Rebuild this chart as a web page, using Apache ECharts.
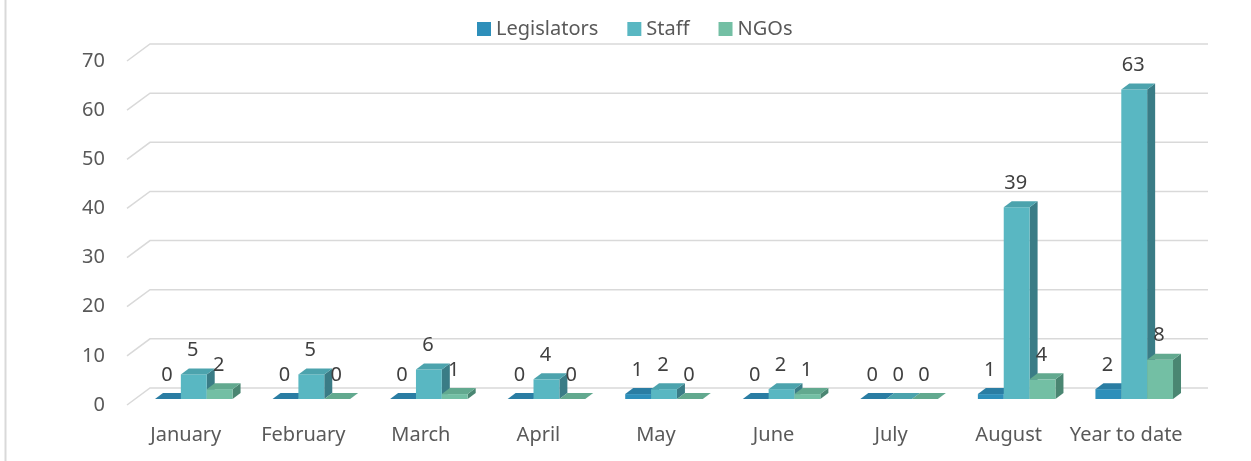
<!DOCTYPE html>
<html>
<head>
<meta charset="utf-8">
<script src="https://cdn.jsdelivr.net/npm/echarts@6/dist/echarts.min.js"></script>
<style>
html,body{margin:0;padding:0;background:#fff;}
#chart{width:1251px;height:461px;}
</style>
</head>
<body>
<div id="chart"></div>
<script>
const categories = ['January','February','March','April','May','June','July','August','Year to date'];
const legislators = [0,0,0,0,1,0,0,1,2];
const staff = [5,5,6,4,2,2,0,39,63];
const ngos = [2,0,1,0,0,1,0,4,8];
const yTicks = [0,10,20,30,40,50,60,70];

const seriesNames = ['Legislators','Staff','NGOs'];
const seriesData = [legislators, staff, ngos];
const colors = [
  {front:'#2E8FBA', top:'#2A7DA3', side:'#226A8A'},
  {front:'#59B7C2', top:'#4CA3AD', side:'#3A7C86'},
  {front:'#73BFA4', top:'#62A98F', side:'#4A8672'}
];

const PLANE = [8, -6];   // bar plane offset from front plane
const DEPTH = [8, -6];   // bar depth
const WALL = [23, -17];  // back wall offset
const FONT = '"Noto Sans", "Open Sans", sans-serif';
const TXT = '#595959';

function barRender(si) {
  return function(params, api) {
    const ci = api.value(0), v = api.value(1);
    const p0 = api.coord([ci, 0]);
    const p1 = api.coord([ci, v]);
    const band = api.size([1, 0])[0];
    const bw = band * 0.22;
    const xl = p0[0] - 1.5 * bw + si * bw + PLANE[0];
    const xr = xl + bw;
    const yb = p0[1] + PLANE[1];
    const yt = p1[1] + PLANE[1];
    const c = colors[si];
    const dx = DEPTH[0], dy = DEPTH[1];
    const children = [];
    if (yb - yt > 0.5) {
      children.push({type:'polygon', shape:{points:[[xr,yb],[xr+dx,yb+dy],[xr+dx,yt+dy],[xr,yt]]}, style:{fill:c.side}});
      children.push({type:'rect', shape:{x:xl, y:yt, width:bw, height:yb-yt}, style:{fill:c.front}});
    }
    children.push({type:'polygon', shape:{points:[[xl,yt],[xr,yt],[xr+dx,yt+dy],[xl+dx,yt+dy]]}, style:{fill:c.top}});
    children.push({type:'text', z2:100, style:{text:String(v), x:(xl+xr)/2 - 1, y:yt-24, align:'center', verticalAlign:'middle', fill:'#404040', font:'20px ' + FONT}});
    return {type:'group', children};
  };
}

const series = [{
  type:'custom',
  name:'grid',
  silent:true,
  z:1,
  data: yTicks.map(v => [0, v]),
  renderItem: function(params, api) {
    const cs = params.coordSys;
    const y = api.coord([0, api.value(1)])[1];
    const x = cs.x;
    return {type:'polyline', shape:{points:[[x, y],[x+WALL[0], y+WALL[1]],[x+cs.width+WALL[0], y+WALL[1]]]}, style:{stroke:'#D9D9D9', lineWidth:1.5, fill:null}};
  }
}];
seriesData.forEach((d, si) => {
  series.push({
    type:'custom',
    name: seriesNames[si],
    z: 2 + si,
    itemStyle:{color: colors[si].front},
    data: d.map((v, i) => [i, v]),
    renderItem: barRender(si)
  });
});

const chart = echarts.init(document.getElementById('chart'));
chart.setOption({
  animation:false,
  backgroundColor:'#fff',
  legend:{
    data: seriesNames,
    left: 472, top: 14,
    itemWidth:14, itemHeight:14, itemGap:29,
    icon:'rect',
    textStyle:{fontSize:20, color:TXT, fontFamily:FONT}
  },
  grid:{left:127, right:66, top:61, bottom:56, containLabel:false},
  xAxis:{
    type:'category', data:categories,
    axisLine:{show:false}, axisTick:{show:false},
    axisLabel:{color:TXT, fontSize:20, fontFamily:FONT, margin:20, interval:0}
  },
  yAxis:{
    type:'value', min:0, max:70, interval:10,
    axisLine:{show:false}, axisTick:{show:false}, splitLine:{show:false},
    axisLabel:{color:TXT, fontSize:20, fontFamily:FONT, margin:22}
  },
  graphic:[{type:'line', shape:{x1:5.5, y1:0, x2:5.5, y2:461}, style:{stroke:'#D9D9D9', lineWidth:2}}],
  series
});
</script>
</body>
</html>
